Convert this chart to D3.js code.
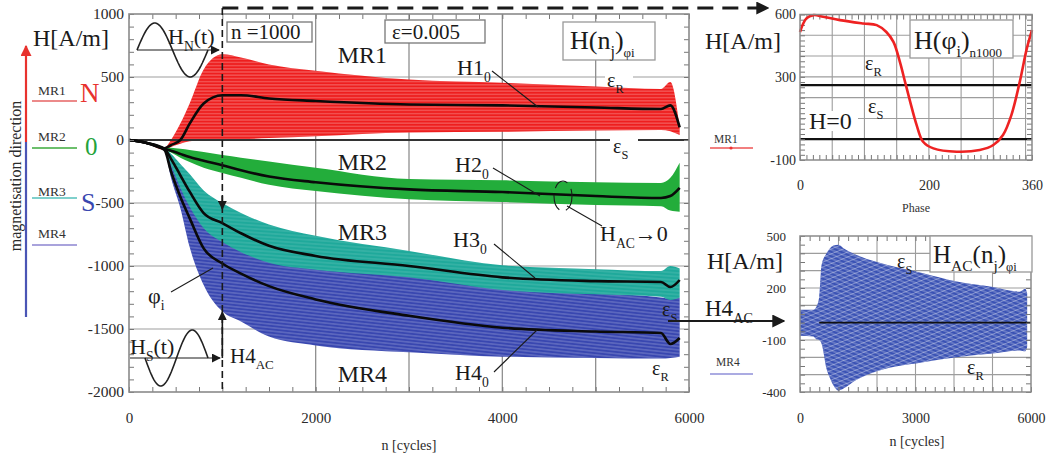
<!DOCTYPE html>
<html>
<head>
<meta charset="utf-8">
<script src="https://cdn.jsdelivr.net/npm/d3@7"></script>
<style>
  body { margin: 0; background: #fff; }
  svg { display: block; font-family: "Liberation Serif", "DejaVu Serif", serif; }
</style>
</head>
<body>
<svg width="1053" height="460"></svg>
<script>
// ---------- values ----------
// main panel: H(n_j) bands for the four magnetisation regions
const cycles   = [0, 200, 380, 450, 550, 650, 800, 1000, 1200, 1500, 2000, 3000, 4000, 5000, 5700, 5800, 5900];
const mr1Upper = [0, -20, -60, 0, 130, 290, 560, 680, 655, 600, 550, 480, 455, 425, 405, 460, 100];
const mr1Mean  = [0, -25, -65, -40, 0, 130, 290, 355, 355, 330, 310, 282, 275, 258, 246, 275, 100];
const mr1Lower = [0, -30, -80, -55, -30, -10, -2, 0, 5, 15, 30, 60, 65, 75, 80, 70, 40];
const mr2Upper = [0, -20, -60, -62, -70, -80, -95, -120, -140, -170, -220, -310, -320, -335, -341, -300, -180];
const mr2Mean  = [0, -25, -70, -85, -110, -135, -165, -200, -240, -290, -335, -392, -413, -445, -460, -445, -380];
const mr2Lower = [0, -30, -80, -100, -140, -175, -220, -262, -300, -355, -405, -470, -492, -515, -525, -560, -570];
const mr3Upper = [0, -20, -65, -110, -190, -270, -400, -500, -580, -670, -760, -880, -995, -1025, -1040, -1000, -1020];
const mr3Mean  = [0, -25, -70, -150, -280, -410, -580, -660, -740, -840, -920, -1000, -1090, -1120, -1127, -1167, -1111];
const mr3Lower = [0, -30, -80, -200, -380, -530, -700, -810, -890, -975, -1030, -1090, -1190, -1225, -1245, -1270, -1250];
const mr4Upper = [0, -20, -70, -140, -270, -390, -530, -640, -730, -830, -940, -1070, -1160, -1215, -1250, -1260, -1250];
const mr4Mean  = [0, -25, -80, -250, -450, -620, -860, -980, -1060, -1160, -1265, -1395, -1490, -1520, -1532, -1619, -1571];
const mr4Lower = [0, -30, -85, -300, -540, -850, -1150, -1360, -1440, -1560, -1630, -1685, -1720, -1730, -1735, -1730, -1720];
const mainYTicks = [1000, 500, 0, -500, -1000, -1500, -2000];
const mainXTicks = [0, 2000, 4000, 6000];
const mainHGrid = [500, -500, -1000, -1500];
const mainVGrid = [2000, 3000, 4000, 5000];
const mrNames = ['MR1', 'MR2', 'MR3', 'MR4'];
const mrLabelH = [611, -238, -794, -1921];

// top-right panel: H(phi_i) at n = 1000
const phaseDeg = [0, 10, 21, 36, 62, 98, 119, 134, 145, 155, 163, 171, 181, 191, 207, 243, 279, 300, 315, 328, 341, 352, 360];
const hPhase   = [516, 581, 597, 589, 573, 557, 549, 516, 468, 372, 276, 180, 68, -12, -44, -60, -52, -28, 20, 116, 276, 437, 525];
const phaseRefLines = [0, 260];
const phaseYTicks = [600, 300, -100];
const phaseXTicks = [0, 200, 360];

// bottom-right panel: H_AC(n_j) envelope for MR4
const acCycles = [0, 350, 420, 500, 560, 690, 780, 870, 1000, 1130, 1470, 2000, 3200, 4070, 4935, 5714, 5850, 5900];
const acUpper  = [75, 75, 90, 150, 333, 400, 430, 445, 450, 430, 391, 350, 285, 237, 208, 179, 195, 170];
const acLower  = [-75, -80, -95, -100, -121, -267, -320, -363, -392, -380, -330, -280, -228, -199, -180, -160, -165, -140];
const acYTicks = [500, 200, -100, -400];
const acXTicks = [0, 3000, 6000];

// ---------- setup ----------
const svg = d3.select('svg');
const red = '#ee1e1e', green = '#23ad3b', teal = '#1fa99b', blue = '#3947b0', acBlue = '#3a52b4';
const ink = '#1a1a1a', gridC = '#9d9d9d', frameC = '#8a8a8a';

const x = d3.scaleLinear().domain([0, 6000]).range([129, 689]);
const y = d3.scaleLinear().domain([-2000, 1000]).range([392, 14]);

const defs = svg.append('defs');
function marker(id, color, size) {
  defs.append('marker').attr('id', id).attr('viewBox', '0 0 10 10')
    .attr('refX', 9).attr('refY', 5).attr('markerUnits', 'userSpaceOnUse')
    .attr('markerWidth', size).attr('markerHeight', size).attr('orient', 'auto')
    .append('path').attr('d', 'M0,0L10,5L0,10z').attr('fill', color);
}
marker('arr', ink, 9);
marker('arrBig', ink, 13);
marker('arrRed', '#e8322e', 11);

function stripes(id, angle, gap, op) {
  const p = defs.append('pattern').attr('id', id).attr('patternUnits', 'userSpaceOnUse')
    .attr('width', 12).attr('height', gap).attr('patternTransform', `rotate(${angle})`);
  p.append('line').attr('x1', 0).attr('x2', 12).attr('y1', gap / 2).attr('y2', gap / 2)
    .attr('stroke', '#fff').attr('stroke-width', 0.7).attr('stroke-opacity', op);
}
stripes('stRed', 0, 3.2, 0.55);
stripes('stBlue', 6, 3.4, 0.45);
stripes('stTeal', 4, 3.6, 0.25);
stripes('stAcA', 24, 4, 0.6);
stripes('stAcB', -22, 4.5, 0.5);

function rich(x0, y0, parts, size, anchor, fill) {
  const t = svg.append('text').attr('x', x0).attr('y', y0).attr('font-size', size)
    .attr('text-anchor', anchor || 'start').attr('fill', fill || ink);
  let off = 0;
  parts.forEach(p => {
    const isSub = Array.isArray(p);
    const str = isSub ? p[0] : p;
    const k = isSub ? (p[1] || 0.62) : 1;
    const target = isSub ? size * 0.3 : 0;
    const ts = t.append('tspan').text(str);
    if (target - off !== 0) ts.attr('dy', target - off);
    if (isSub) ts.attr('font-size', size * k);
    off = target;
  });
  return t;
}
function whiteRect(x0, y0, w, h, stroke) {
  svg.append('rect').attr('x', x0).attr('y', y0).attr('width', w).attr('height', h)
    .attr('fill', '#fff').attr('stroke', stroke || 'none').attr('stroke-width', 1.3);
}
function seg(x1, y1, x2, y2, w, mk, dash) {
  const l = svg.append('line').attr('x1', x1).attr('y1', y1).attr('x2', x2).attr('y2', y2)
    .attr('stroke', ink).attr('stroke-width', w || 1.2);
  if (mk) l.attr('marker-end', `url(#${mk})`);
  if (dash) l.attr('stroke-dasharray', dash);
  return l;
}
function minorTicks(axisFn, scale, vals, tx, ty) {
  svg.append('g').attr('transform', `translate(${tx},${ty})`)
    .call(axisFn(scale).tickValues(vals).tickSize(-5).tickFormat(''))
    .call(g => g.select('.domain').remove())
    .selectAll('line').attr('stroke', '#777');
}

// ---------- main panel ----------
svg.append('g').selectAll('line').data(mainHGrid).join('line')
  .attr('x1', x(0)).attr('x2', x(6000)).attr('y1', d => y(d)).attr('y2', d => y(d))
  .attr('stroke', gridC).attr('stroke-width', 1.2);
svg.append('g').selectAll('line').data(mainVGrid).join('line')
  .attr('y1', y(1000)).attr('y2', y(-2000)).attr('x1', d => x(d)).attr('x2', d => x(d))
  .attr('stroke', '#8f8f8f').attr('stroke-width', 1.3);

const bands = [
  { up: mr1Upper, lo: mr1Lower, mean: mr1Mean, color: red, st: 'stRed' },
  { up: mr2Upper, lo: mr2Lower, mean: mr2Mean, color: green, st: null },
  { up: mr4Upper, lo: mr4Lower, mean: mr4Mean, color: blue, st: 'stBlue' },
  { up: mr3Upper, lo: mr3Lower, mean: mr3Mean, color: teal, st: 'stTeal' }
];
const bandArea = d3.area().curve(d3.curveMonotoneX)
  .x(d => x(d.n)).y0(d => y(d.lo)).y1(d => y(d.up));
bands.forEach(b => {
  const rows = cycles.map((n, i) => ({ n, lo: b.lo[i], up: b.up[i] }));
  svg.append('path').datum(rows).attr('d', bandArea).attr('fill', b.color);
  if (b.st) svg.append('path').datum(rows).attr('d', bandArea).attr('fill', `url(#${b.st})`);
});

// zero line (epsilon_S boundary)
svg.append('line').attr('x1', x(0)).attr('x2', x(6000)).attr('y1', y(0)).attr('y2', y(0))
  .attr('stroke', '#333').attr('stroke-width', 2);

const meanLine = d3.line().curve(d3.curveMonotoneX).x((d, i) => x(cycles[i])).y(d => y(d));
bands.forEach(b => {
  svg.append('path').datum(b.mean).attr('d', meanLine)
    .attr('fill', 'none').attr('stroke', '#0a0a0a').attr('stroke-width', 2.6);
});

// minor ticks and frame
minorTicks(d3.axisLeft, y, d3.range(-2000, 1001, 100), x(0), 0);
minorTicks(d3.axisRight, y, d3.range(-2000, 1001, 100), x(6000), 0);
minorTicks(d3.axisBottom, x, d3.range(0, 6001, 250), 0, y(-2000));
minorTicks(d3.axisTop, x, d3.range(0, 6001, 250), 0, y(1000));
svg.append('rect').attr('x', x(0)).attr('y', y(1000)).attr('width', x(6000) - x(0)).attr('height', y(-2000) - y(1000))
  .attr('fill', 'none').attr('stroke', frameC).attr('stroke-width', 1.6);

svg.append('g').attr('transform', `translate(${x(0)},0)`)
  .call(d3.axisLeft(y).tickValues(mainYTicks).tickSize(0).tickPadding(5).tickFormat(d => String(d)))
  .call(g => g.select('.domain').remove())
  .attr('font-family', null).attr('font-size', 15.5)
  .selectAll('text').attr('fill', '#2a2a2a');
svg.append('g').attr('transform', `translate(0,${y(-2000)})`)
  .call(d3.axisBottom(x).tickValues(mainXTicks).tickSize(0).tickPadding(20).tickFormat(d => String(d)))
  .call(g => g.select('.domain').remove())
  .attr('font-family', null).attr('font-size', 15)
  .selectAll('text').attr('fill', '#2a2a2a');
svg.append('text').attr('x', 409).attr('y', 450).attr('text-anchor', 'middle')
  .attr('font-size', 14).attr('fill', '#2a2a2a').text('n [cycles]');
rich(33, 46, ['H[A/m]'], 24);

// region labels
mrNames.forEach((m, i) => {
  svg.append('text').attr('x', x(2500)).attr('y', y(mrLabelH[i])).attr('text-anchor', 'middle')
    .attr('font-size', 24).attr('fill', ink).text(m);
});

// epsilon labels on white
whiteRect(605, 70, 28, 15);
rich(607, 87, ['ε', ['R']], 20);
whiteRect(610, 139, 28, 17);
rich(613, 153, ['ε', ['S']], 20);
rich(662, 316, ['ε', ['S']], 20);
rich(652, 375, ['ε', ['R']], 20);

// mean-line labels with leaders
rich(457, 75, ['H1', ['0']], 22);   seg(492, 71, 538, 107, 1.1);
rich(455, 172, ['H2', ['0']], 22);  seg(493, 168, 540, 196, 1.1);
rich(453, 247, ['H3', ['0']], 22);  seg(494, 244, 535, 278, 1.1);
rich(455, 380, ['H4', ['0']], 22);  seg(494, 372, 537, 330, 1.1);
rich(148, 303, ['φ', ['i']], 22);   seg(171, 292, 213, 268, 1.1);

// H_AC -> 0 marker
svg.append('ellipse').attr('cx', 563).attr('cy', 196).attr('rx', 9).attr('ry', 15)
  .attr('fill', 'none').attr('stroke', ink).attr('stroke-width', 1.1).attr('stroke-dasharray', '16,7');
seg(567, 206, 602, 226, 1.1);
rich(600, 241, ['H', ['AC'], '→0'], 22);

// text boxes
whiteRect(227, 22, 85, 20, '#777');
rich(231, 39, ['n =1000'], 21);
whiteRect(385, 20, 100, 23, '#777');
rich(392, 39, ['ε=0.005'], 21);
whiteRect(563, 22, 92, 38, '#999');
rich(570, 49, ['H(n', ['j'], ')', ['φi', 0.5]], 26);

// excitation sine glyphs
function sineGlyph(x0, x1, yc, amp, sign) {
  const pts = d3.range(0, 1.0001, 0.02).map(t => [x0 + t * (x1 - x0), yc - sign * amp * Math.sin(2 * Math.PI * t)]);
  svg.append('path').attr('d', d3.line()(pts)).attr('fill', 'none').attr('stroke', '#222').attr('stroke-width', 1.6);
}
sineGlyph(137, 208, 50, 27, 1);
seg(137, 50, 219, 50, 1, 'arr');
rich(168, 44, ['H', ['N'], '(t)'], 22);
sineGlyph(145, 208, 358, 28, -1);
seg(130, 358, 220, 358, 1, 'arr');
rich(130, 354, ['H', ['S'], '(t)'], 22);
rich(230, 363, ['H4', ['AC']], 21);

// n = 1000 marker lines
seg(x(1000), 8, x(1000), y(-2000), 1.6, null, '7,4');
seg(x(1000), 196, x(1000), 209, 1.6, 'arr');
seg(x(1000), 358, x(1000), 312, 1.6, 'arr');
seg(x(1000), 8, 768, 8, 3, 'arrBig', '16,9');

// ---------- left legend ----------
svg.append('line').attr('x1', 26).attr('x2', 26).attr('y1', 142).attr('y2', 46)
  .attr('stroke', '#e8322e').attr('stroke-width', 2.2).attr('marker-end', 'url(#arrRed)');
svg.append('line').attr('x1', 26).attr('x2', 26).attr('y1', 142).attr('y2', 317)
  .attr('stroke', '#4a55b5').attr('stroke-width', 2.2);
svg.append('text').attr('transform', 'translate(21,176) rotate(-90)').attr('text-anchor', 'middle')
  .attr('font-size', 16).attr('fill', '#2a2a2a').text('magnetisation direction');
const legendY = [95, 141, 196, 238];
const legendLineY = [101, 148, 198, 245];
const legendColors = ['#ec8a8a', '#6cbf6c', '#7fd0cc', '#a9a3dc'];
mrNames.forEach((m, i) => {
  svg.append('text').attr('x', 38).attr('y', legendY[i]).attr('font-size', 13.5).attr('fill', '#333').text(m);
  svg.append('line').attr('x1', 32).attr('x2', 77).attr('y1', legendLineY[i]).attr('y2', legendLineY[i])
    .attr('stroke', legendColors[i]).attr('stroke-width', 2);
});
rich(80, 102, ['N'], 27, 'start', '#e8322e');
rich(85, 155, ['0'], 25, 'start', '#23a33a');
rich(81, 211, ['S'], 26, 'start', '#3a47b0');

// ---------- top-right panel: H(phi_i) ----------
const px = d3.scaleLinear().domain([0, 360]).range([800, 1032]);
const py = d3.scaleLinear().domain([-100, 600]).range([160, 14.5]);
svg.append('g').selectAll('line').data(d3.range(50, 360, 50)).join('line')
  .attr('x1', d => px(d)).attr('x2', d => px(d)).attr('y1', py(600)).attr('y2', py(-100))
  .attr('stroke', gridC).attr('stroke-width', 1.1);
svg.append('g').selectAll('line').data([100, 200, 300, 400, 500]).join('line')
  .attr('y1', d => py(d)).attr('y2', d => py(d)).attr('x1', px(0)).attr('x2', px(360))
  .attr('stroke', gridC).attr('stroke-width', 1.1);
svg.append('g').selectAll('line').data(phaseRefLines).join('line')
  .attr('y1', d => py(d)).attr('y2', d => py(d)).attr('x1', px(0)).attr('x2', px(360))
  .attr('stroke', '#111').attr('stroke-width', 2.2);
minorTicks(d3.axisLeft, py, d3.range(-100, 601, 25), px(0), 0);
minorTicks(d3.axisRight, py, d3.range(-100, 601, 25), px(360), 0);
minorTicks(d3.axisBottom, px, d3.range(0, 361, 10), 0, py(-100));
minorTicks(d3.axisTop, px, d3.range(0, 361, 10), 0, py(600));

whiteRect(806, 111, 52, 20);
rich(809, 129, ['H=0'], 24);
rich(865, 70, ['ε', ['R']], 20);
rich(868, 113, ['ε', ['S']], 20);

svg.append('path').datum(phaseDeg)
  .attr('d', d3.line().curve(d3.curveCatmullRom).x(d => px(d)).y((d, i) => py(hPhase[i])))
  .attr('fill', 'none').attr('stroke', '#ee2222').attr('stroke-width', 2.6);

svg.append('rect').attr('x', px(0)).attr('y', py(600)).attr('width', px(360) - px(0)).attr('height', py(-100) - py(600))
  .attr('fill', 'none').attr('stroke', frameC).attr('stroke-width', 1.5);
whiteRect(910, 20, 103, 38, '#999');
rich(914, 49, ['H(φ', ['i'], ')', ['n1000', 0.5]], 26);

svg.append('g').attr('transform', `translate(${px(0)},0)`)
  .call(d3.axisLeft(py).tickValues(phaseYTicks).tickSize(0).tickPadding(4).tickFormat(d => String(d)))
  .call(g => g.select('.domain').remove())
  .attr('font-family', null).attr('font-size', 14).selectAll('text').attr('fill', '#2a2a2a');
svg.append('g').attr('transform', `translate(0,${py(-100)})`)
  .call(d3.axisBottom(px).tickValues(phaseXTicks).tickSize(0).tickPadding(20).tickFormat(d => String(d)))
  .call(g => g.select('.domain').remove())
  .attr('font-family', null).attr('font-size', 14).selectAll('text').attr('fill', '#2a2a2a');
svg.append('text').attr('x', 916).attr('y', 212).attr('text-anchor', 'middle')
  .attr('font-size', 12).attr('fill', '#333').text('Phase');
rich(705, 49, ['H[A/m]'], 24);
svg.append('text').attr('x', 714).attr('y', 143).attr('font-size', 11.5).attr('fill', '#333').text('MR1');
svg.append('line').attr('x1', 710).attr('x2', 753).attr('y1', 148).attr('y2', 148).attr('stroke', '#ee5555').attr('stroke-width', 1.5);
svg.append('circle').attr('cx', 731).attr('cy', 148).attr('r', 1.6).attr('fill', '#e33');

// ---------- bottom-right panel: H_AC(n_j) ----------
const ax = d3.scaleLinear().domain([0, 6000]).range([800, 1031]);
const ay = d3.scaleLinear().domain([-400, 500]).range([392, 236]);
svg.append('g').selectAll('line').data(d3.range(1000, 6000, 1000)).join('line')
  .attr('x1', d => ax(d)).attr('x2', d => ax(d)).attr('y1', ay(500)).attr('y2', ay(-400))
  .attr('stroke', gridC).attr('stroke-width', 1.1);
svg.append('g').selectAll('line').data(d3.range(-300, 500, 100)).join('line')
  .attr('y1', d => ay(d)).attr('y2', d => ay(d)).attr('x1', ax(0)).attr('x2', ax(6000))
  .attr('stroke', gridC).attr('stroke-width', 1.1);

const acRows = acCycles.map((n, i) => ({ n, lo: acLower[i], up: acUpper[i] }));
const acArea = d3.area().curve(d3.curveMonotoneX).x(d => ax(d.n)).y0(d => ay(d.lo)).y1(d => ay(d.up));
svg.append('path').datum(acRows).attr('d', acArea).attr('fill', acBlue);
svg.append('path').datum(acRows).attr('d', acArea).attr('fill', 'url(#stAcA)');
svg.append('path').datum(acRows).attr('d', acArea).attr('fill', 'url(#stAcB)');
svg.append('line').attr('x1', ax(500)).attr('x2', ax(6000)).attr('y1', ay(0)).attr('y2', ay(0))
  .attr('stroke', '#111').attr('stroke-width', 1.8);

minorTicks(d3.axisLeft, ay, d3.range(-400, 501, 50), ax(0), 0);
minorTicks(d3.axisRight, ay, d3.range(-400, 501, 50), ax(6000), 0);
minorTicks(d3.axisBottom, ax, d3.range(0, 6001, 250), 0, ay(-400));
minorTicks(d3.axisTop, ax, d3.range(0, 6001, 250), 0, ay(500));
svg.append('rect').attr('x', ax(0)).attr('y', ay(500)).attr('width', ax(6000) - ax(0)).attr('height', ay(-400) - ay(500))
  .attr('fill', 'none').attr('stroke', frameC).attr('stroke-width', 1.5);
whiteRect(930, 236, 102, 36, '#999');
rich(933, 263, ['H', ['AC'], '(n', ['j'], ')', ['φi', 0.5]], 25);
rich(897, 268, ['ε', ['S']], 20);
rich(967, 374, ['ε', ['R']], 20);

svg.append('g').attr('transform', `translate(${ax(0)},0)`)
  .call(d3.axisLeft(ay).tickValues(acYTicks).tickSize(0).tickPadding(14).tickFormat(d => String(d)))
  .call(g => g.select('.domain').remove())
  .attr('font-family', null).attr('font-size', 13).selectAll('text').attr('fill', '#2a2a2a');
svg.append('g').attr('transform', `translate(0,${ay(-400)})`)
  .call(d3.axisBottom(ax).tickValues(acXTicks).tickSize(0).tickPadding(21).tickFormat(d => String(d)))
  .call(g => g.select('.domain').remove())
  .attr('font-family', null).attr('font-size', 14).selectAll('text').attr('fill', '#2a2a2a');
svg.append('text').attr('x', 917).attr('y', 446).attr('text-anchor', 'middle')
  .attr('font-size', 14).attr('fill', '#2a2a2a').text('n [cycles]');
rich(707, 269, ['H[A/m]'], 24);
svg.append('text').attr('x', 716).attr('y', 366).attr('font-size', 11.5).attr('fill', '#333').text('MR4');
svg.append('line').attr('x1', 710).attr('x2', 753).attr('y1', 374).attr('y2', 374).attr('stroke', '#8f8fd8').attr('stroke-width', 1.5);

// H4_AC transfer arrow into the AC panel
seg(668, 321, 784, 321, 2.2, 'arrBig');
rich(705, 316, ['H4', ['AC']], 23);
</script>
</body>
</html>
